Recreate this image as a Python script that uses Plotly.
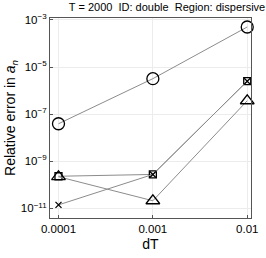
import plotly.graph_objects as go

dT = [0.0001, 0.001, 0.01]
err_circle = [3.9e-8, 3.2e-6, 5.0e-4]
err_square = [2.3e-10, 2.75e-10, 2.5e-6]
err_x = [1.4e-11, 2.75e-10, 2.5e-6]
err_tri = [2.2e-10, 2.1e-11, 3.7e-7]

y_tickvals = [1e-11, 1e-9, 1e-7, 1e-5, 1e-3]
y_ticktext = ["10<sup>−11</sup>", "10<sup>−9</sup>", "10<sup>−7</sup>", "10<sup>−5</sup>", "10<sup>−3</sup>"]
x_tickvals = [0.0001, 0.001, 0.01]
x_ticktext = ["0.0001", "0.001", "0.01"]

line_col = "#8c8c8c"
fig = go.Figure()
def add(y, sym, size):
    fig.add_trace(go.Scatter(
        x=dT, y=y, mode="lines+markers",
        line=dict(color=line_col, width=1),
        marker=dict(symbol=sym, size=size, color="black",
                    line=dict(color="black", width=1.3)),
        showlegend=False, cliponaxis=False))

add(err_circle, "circle-open", 12)
add(err_square, "square-open", 7)
add(err_x, "x-thin-open", 6)
add(err_tri, "triangle-up-open", 12)

font = "Liberation Sans, Arial, sans-serif"
fig.update_layout(
    width=266, height=258,
    margin=dict(l=50, r=8, t=18, b=34),
    paper_bgcolor="white", plot_bgcolor="white",
    font=dict(family=font, size=11.5, color="black"),
    title=dict(text="T = 2000  ID: double  Region: dispersive",
               x=0.628, xanchor="center", y=0.988, yanchor="top",
               font=dict(size=11)),
    xaxis=dict(type="log", range=[-4.09, -1.96],
               tickvals=x_tickvals, ticktext=x_ticktext,
               showgrid=True, gridcolor="#ececec", gridwidth=1,
               showline=True, linecolor="#555555", mirror=True,
               ticks="inside", ticklen=3, tickcolor="#555555",
               title=dict(text="dT", standoff=5), zeroline=False),
    yaxis=dict(type="log", range=[-11.41, -2.92],
               tickvals=y_tickvals, ticktext=y_ticktext,
               showgrid=True, gridcolor="#ececec", gridwidth=1,
               showline=True, linecolor="#555555", mirror=True,
               ticks="inside", ticklen=3, tickcolor="#555555",
               title=dict(text="Relative error in <i>a<sub>n</sub></i>", standoff=1),
               zeroline=False),
)
fig.write_html("out.html", config={"displayModeBar": False},
               post_script="document.body.style.margin='0';document.body.style.padding='0';")
